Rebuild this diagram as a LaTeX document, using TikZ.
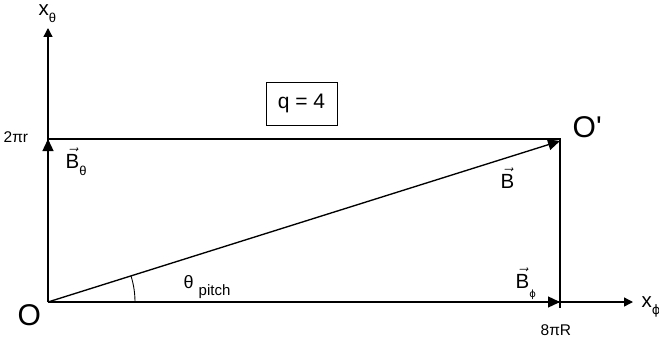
\documentclass[tikz,border=0pt]{standalone}
\usepackage{amsmath}
\usepackage{fontspec}
\setmainfont{Liberation Sans}[Ligatures=TeXOff]
\newfontfamily\phifont{DejaVu Sans}
\usetikzlibrary{arrows.meta}
\tikzset{
    pitchfig/.style={
        x=1pt, y=1pt, line width=1.35pt,
        line cap = butt, line join = miter,
    },
    axistip/.style={-{Triangle[length=9pt,width=9pt]}},
    vectip/.style={-{Triangle[length=12pt,width=11pt]}},
    lbl/.style={inner sep=0pt, anchor=base west},
    biglbl/.style={lbl, font=\fontsize{30}{32}\selectfont},
    midlbl/.style={lbl, font=\fontsize{20.5}{22}\selectfont},
    smalllbl/.style={lbl, font=\fontsize{15.5}{17}\selectfont},
}
\newcommand{\vecB}{$\vec{\text{B}}$}
\newcommand{\lowsub}[3]{\raisebox{-#1pt}{\fontsize{#2}{#2}\selectfont #3}}
\begin{document}
\begin{tikzpicture}[pitchfig]
    \useasboundingbox (0,0) rectangle (659,341);
    \coordinate (O) at (48,39);
    \coordinate (ytop) at (48,313);
    \coordinate (xend) at (633,39);
    \coordinate (Bt) at (48,202);
    \coordinate (Op) at (560,202);
    \coordinate (Bhead) at (560,200);
    \coordinate (Bp) at (560,39);
    \coordinate (tick) at (560,33);
    % axes
    \draw[axistip] (O) -- (ytop);
    \draw[axistip] (O) -- (xend);
    \draw (Bt) -- (Op) -- (tick);
    % field components
    \draw[vectip] (O) -- (Bt);
    \draw[vectip] (O) -- (Bp);
    \draw[vectip] (O) -- (Bhead);
    \draw[line width=0.9pt] ([shift={(87,0)}]O) arc[start angle=0, end angle=17.5, radius=87];
    % labels
    \node[biglbl] (o) at (17,16) {O};
    \node[biglbl] (oprime) at (572,204) {O'};
    \node[draw, line width=0.9pt, minimum width=71pt, minimum height=43pt,
          font=\fontsize{21}{23}\selectfont] (q) at (301.5,237.5) {q = 4};
    \node[smalllbl] (twopir) at (3,199) {2πr};
    \node[smalllbl] (eightpiR) at (540,6) {8πR};
    \node[midlbl] (xtheta) at (38,325) {x\lowsub{6}{13}{θ}};
    \node[midlbl] (xphi) at (641,34) {x\lowsub{7}{13}{\phifont ϕ}};
    \node[midlbl] (Btheta) at (65,173) {\vecB\lowsub{7}{13}{θ}};
    \node[midlbl] (Bvec) at (500,153) {\vecB};
    \node[midlbl] (Bphi) at (515,53) {\vecB\lowsub{9}{10}{\phifont ϕ}};
    \node[lbl, font=\fontsize{18}{20}\selectfont] (pitch) at (183,53) {θ \lowsub{7}{15}{pitch}};
\end{tikzpicture}
\end{document}
